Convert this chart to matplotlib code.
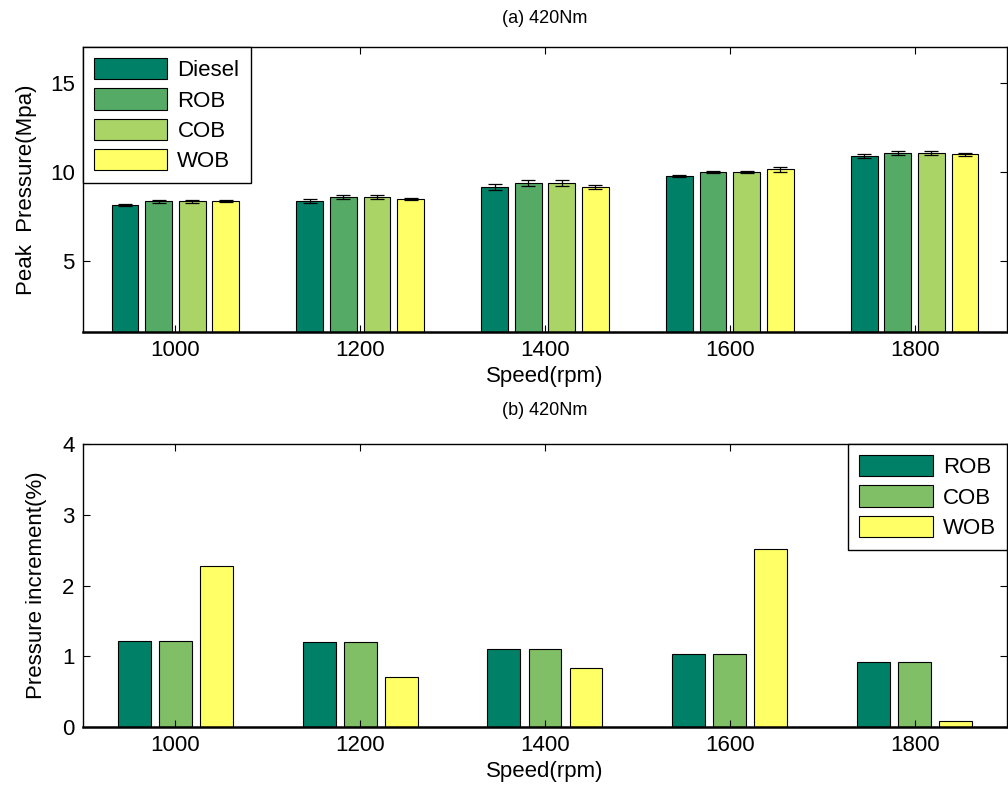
import numpy as np
import matplotlib
matplotlib.use("Agg")
import matplotlib.pyplot as plt

plt.rcParams['font.family'] = ['Liberation Sans', 'DejaVu Sans']

# data
speeds = ['1000', '1200', '1400', '1600', '1800']

# (a) peak pressure, MPa
diesel = [8.15, 8.34, 9.13, 9.76, 10.89]
rob_p = [8.33, 8.57, 9.35, 9.97, 11.04]
cob_p = [8.33, 8.57, 9.35, 9.97, 11.04]
wob_p = [8.35, 8.45, 9.13, 10.14, 10.98]
diesel_err = [0.05, 0.11, 0.17, 0.05, 0.11]
rob_err = [0.08, 0.10, 0.16, 0.07, 0.12]
cob_err = [0.08, 0.10, 0.16, 0.07, 0.12]
wob_err = [0.07, 0.06, 0.12, 0.15, 0.07]

# (b) pressure increment, %
rob_inc = [1.22, 1.20, 1.10, 1.03, 0.92]
cob_inc = [1.22, 1.20, 1.10, 1.03, 0.92]
wob_inc = [2.27, 0.70, 0.84, 2.51, 0.08]

# MATLAB summer colormap
summer4 = ['#008066', '#55AA66', '#AAD466', '#FFFF66']
summer3 = ['#008066', '#80BF66', '#FFFF66']

FS = 16

fig = plt.figure(figsize=(10.08, 7.93), dpi=100)
ax1 = fig.add_axes([0.0823, 0.5813, 0.9167, 0.3594])
ax2 = fig.add_axes([0.0823, 0.0832, 0.9167, 0.3569])

x = np.arange(1, len(speeds) + 1)


def style(ax):
    ax.set_xlim(0.5, 5.5)
    ax.set_xticks(x)
    ax.set_xticklabels(speeds)
    ax.tick_params(direction='in', top=True, right=True, length=5,
                   labelsize=FS, width=0.8, pad=6)
    for s in ax.spines.values():
        s.set_linewidth(1.0)
    ax.spines['bottom'].set_linewidth(1.8)


def add_legend(ax, loc):
    leg = ax.legend(loc=loc, borderaxespad=0, fontsize=FS,
                    handlelength=3.3, handleheight=1.1, labelspacing=0.32,
                    handletextpad=0.45, borderpad=0.5, fancybox=False,
                    framealpha=1, edgecolor='black')
    leg.get_frame().set_linewidth(1.0)
    return leg


# ---- (a) ----
series = [diesel, rob_p, cob_p, wob_p]
errs = [diesel_err, rob_err, cob_err, wob_err]
names = ['Diesel', 'ROB', 'COB', 'WOB']
pitch = (4 / 5.5) / 4
for i, (vals, e) in enumerate(zip(series, errs)):
    off = (i - 1.5) * pitch
    ax1.bar(x + off, vals, width=0.8 * pitch, color=summer4[i],
            edgecolor='black', linewidth=0.8, label=names[i])
    ax1.errorbar(x + off, vals, yerr=e, fmt='none', ecolor='black',
                 elinewidth=0.9, capsize=5, capthick=0.9)
ax1.set_ylim(1, 17)
ax1.set_yticks([5, 10, 15])
style(ax1)
ax1.set_xlabel('Speed(rpm)', fontsize=FS, labelpad=3)
ax1.set_ylabel('Peak  Pressure(Mpa)', fontsize=FS, labelpad=9)
ax1.set_title('(a) 420Nm', fontsize=13, pad=17)
add_legend(ax1, 'upper left')

# ---- (b) ----
series_b = [rob_inc, cob_inc, wob_inc]
names_b = ['ROB', 'COB', 'WOB']
pitch = (3 / 4.5) / 3
for i, vals in enumerate(series_b):
    off = (i - 1) * pitch
    ax2.bar(x + off, vals, width=0.8 * pitch, color=summer3[i],
            edgecolor='black', linewidth=0.8, label=names_b[i])
ax2.set_ylim(0, 4)
ax2.set_yticks([0, 1, 2, 3, 4])
style(ax2)
ax2.set_xlabel('Speed(rpm)', fontsize=FS, labelpad=3)
ax2.set_ylabel('Pressure increment(%)', fontsize=FS, labelpad=11)
ax2.set_title('(b) 420Nm', fontsize=13, pad=21)
add_legend(ax2, 'upper right')

fig.savefig('out.png', dpi=100)
